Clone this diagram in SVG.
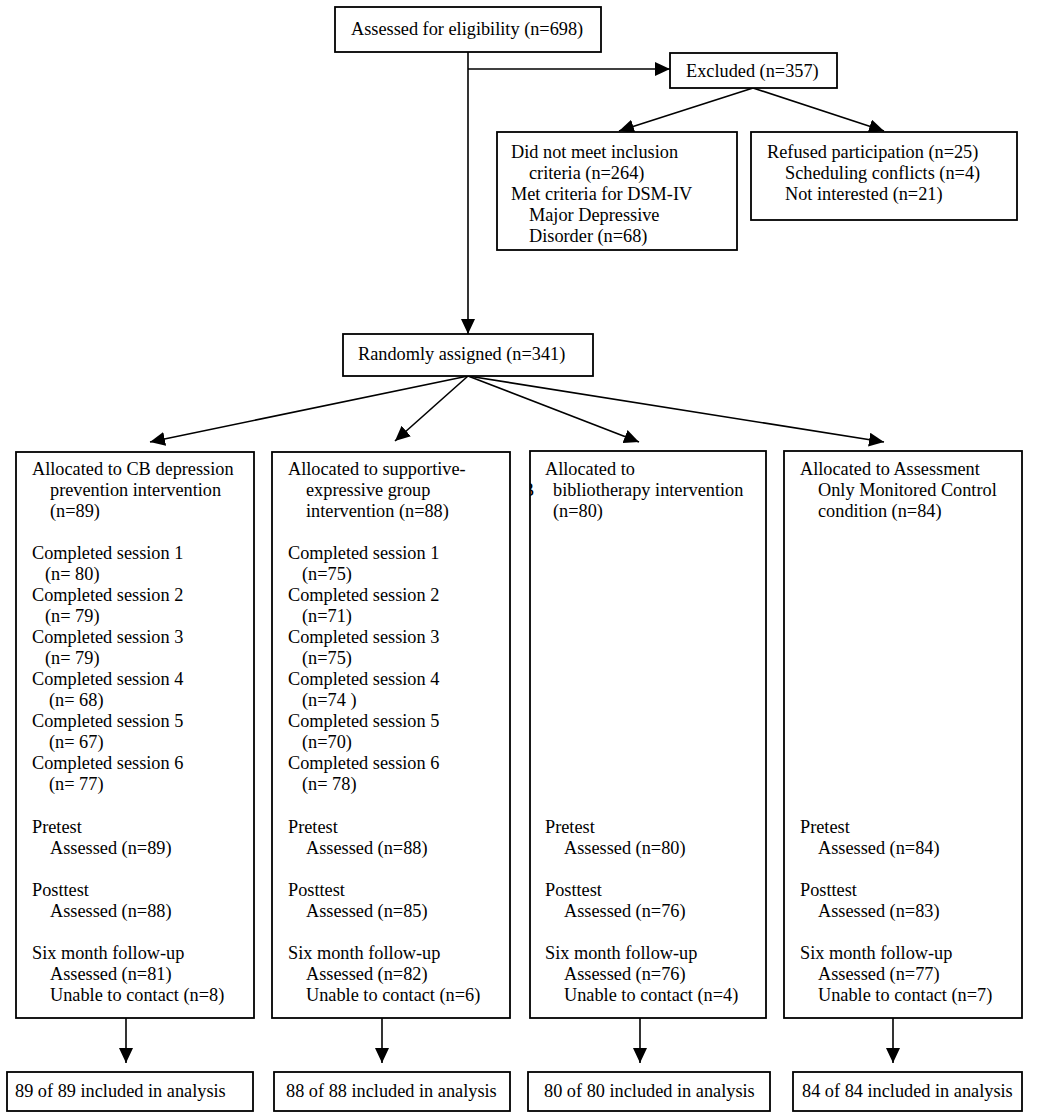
<svg xmlns="http://www.w3.org/2000/svg" width="1050" height="1118" viewBox="0 0 1050 1118">
<style>
text{font-family:"Liberation Serif","Times New Roman",serif;font-size:18.3px;fill:#000}
.box{fill:#fff;stroke:#000;stroke-width:1.8}
.con{fill:none;stroke:#000;stroke-width:1.6}
</style>
<defs>
<marker id="ah" markerUnits="userSpaceOnUse" markerWidth="16" markerHeight="14" refX="15" refY="7" orient="auto">
<path d="M0,0 L15,7 L0,14 z" fill="#000"/>
</marker>
<clipPath id="clipB"><rect x="530" y="470" width="20" height="40"/></clipPath>
</defs>
<rect width="1050" height="1118" fill="#fff"/>
<g id="connectors">
<line class="con" x1="468" y1="52" x2="468" y2="334" marker-end="url(#ah)"/>
<line class="con" x1="468" y1="69" x2="670" y2="69" marker-end="url(#ah)"/>
<line class="con" x1="753" y1="88" x2="619" y2="131" marker-end="url(#ah)"/>
<line class="con" x1="753" y1="88" x2="884" y2="131" marker-end="url(#ah)"/>
<line class="con" x1="468" y1="376" x2="150" y2="442" marker-end="url(#ah)"/>
<line class="con" x1="468" y1="376" x2="395" y2="441" marker-end="url(#ah)"/>
<line class="con" x1="468" y1="376" x2="639" y2="442" marker-end="url(#ah)"/>
<line class="con" x1="468" y1="376" x2="884" y2="442" marker-end="url(#ah)"/>
<line class="con" x1="126" y1="1018" x2="126" y2="1063" marker-end="url(#ah)"/>
<line class="con" x1="382" y1="1018" x2="382" y2="1063" marker-end="url(#ah)"/>
<line class="con" x1="640" y1="1018" x2="640" y2="1063" marker-end="url(#ah)"/>
<line class="con" x1="893" y1="1018" x2="893" y2="1063" marker-end="url(#ah)"/>
</g>
<g id="eligibility">
<rect class="box" x="335" y="7" width="266" height="45"/>
<text x="351" y="35">Assessed for eligibility (n=698)</text>
</g>
<g id="excluded">
<rect class="box" x="670" y="53" width="167" height="35"/>
<text x="686" y="77">Excluded (n=357)</text>
</g>
<g id="not-met">
<rect class="box" x="497" y="132" width="240" height="118"/>
<text x="511" y="158">Did not meet inclusion</text>
<text x="529" y="179">criteria (n=264)</text>
<text x="511" y="200">Met criteria for DSM-IV</text>
<text x="529" y="221">Major Depressive</text>
<text x="529" y="242">Disorder (n=68)</text>
</g>
<g id="refused">
<rect class="box" x="751" y="132" width="266" height="88"/>
<text x="767" y="158">Refused participation (n=25)</text>
<text x="785" y="179">Scheduling conflicts (n=4)</text>
<text x="785" y="200">Not interested (n=21)</text>
</g>
<g id="randomly">
<rect class="box" x="343" y="334" width="250" height="42"/>
<text x="358" y="360">Randomly assigned (n=341)</text>
</g>
<g id="cb">
<rect class="box" x="16" y="452" width="238" height="566"/>
<text x="32" y="475">Allocated to CB depression</text>
<text x="50" y="496">prevention intervention</text>
<text x="50" y="517">(n=89)</text>
<text x="32" y="559">Completed session 1</text>
<text x="45" y="580">(n= 80)</text>
<text x="32" y="601">Completed session 2</text>
<text x="45" y="622">(n= 79)</text>
<text x="32" y="643">Completed session 3</text>
<text x="45" y="664">(n= 79)</text>
<text x="32" y="685">Completed session 4</text>
<text x="49" y="706">(n= 68)</text>
<text x="32" y="727">Completed session 5</text>
<text x="49" y="748">(n= 67)</text>
<text x="32" y="769">Completed session 6</text>
<text x="49" y="790">(n= 77)</text>
<text x="32" y="833">Pretest</text>
<text x="50" y="854">Assessed (n=89)</text>
<text x="32" y="896">Posttest</text>
<text x="50" y="917">Assessed (n=88)</text>
<text x="32" y="959">Six month follow-up</text>
<text x="50" y="980">Assessed (n=81)</text>
<text x="50" y="1001">Unable to contact (n=8)</text>
</g>
<g id="supportive">
<rect class="box" x="272" y="452" width="238" height="566"/>
<text x="288" y="475">Allocated to supportive-</text>
<text x="306" y="496">expressive group</text>
<text x="306" y="517">intervention (n=88)</text>
<text x="288" y="559">Completed session 1</text>
<text x="302" y="580">(n=75)</text>
<text x="288" y="601">Completed session 2</text>
<text x="302" y="622">(n=71)</text>
<text x="288" y="643">Completed session 3</text>
<text x="302" y="664">(n=75)</text>
<text x="288" y="685">Completed session 4</text>
<text x="302" y="706">(n=74 )</text>
<text x="288" y="727">Completed session 5</text>
<text x="302" y="748">(n=70)</text>
<text x="288" y="769">Completed session 6</text>
<text x="302" y="790">(n= 78)</text>
<text x="288" y="833">Pretest</text>
<text x="306" y="854">Assessed (n=88)</text>
<text x="288" y="896">Posttest</text>
<text x="306" y="917">Assessed (n=85)</text>
<text x="288" y="959">Six month follow-up</text>
<text x="306" y="980">Assessed (n=82)</text>
<text x="306" y="1001">Unable to contact (n=6)</text>
</g>
<g id="bibliotherapy">
<rect class="box" x="530" y="451" width="236" height="567"/>
<text x="545" y="475">Allocated to</text>
<text x="522" y="496" clip-path="url(#clipB)">B</text>
<text x="553" y="496">bibliotherapy intervention</text>
<text x="553" y="517">(n=80)</text>
<text x="545" y="833">Pretest</text>
<text x="564" y="854">Assessed (n=80)</text>
<text x="545" y="896">Posttest</text>
<text x="564" y="917">Assessed (n=76)</text>
<text x="545" y="959">Six month follow-up</text>
<text x="564" y="980">Assessed (n=76)</text>
<text x="564" y="1001">Unable to contact (n=4)</text>
</g>
<g id="control">
<rect class="box" x="784" y="451" width="238" height="567"/>
<text x="800" y="475">Allocated to Assessment</text>
<text x="818" y="496">Only Monitored Control</text>
<text x="818" y="517">condition (n=84)</text>
<text x="800" y="833">Pretest</text>
<text x="818" y="854">Assessed (n=84)</text>
<text x="800" y="896">Posttest</text>
<text x="818" y="917">Assessed (n=83)</text>
<text x="800" y="959">Six month follow-up</text>
<text x="818" y="980">Assessed (n=77)</text>
<text x="818" y="1001">Unable to contact (n=7)</text>
</g>
<g id="analysis-cb">
<rect class="box" x="7" y="1072" width="246" height="39"/>
<text x="15" y="1097">89 of 89 included in analysis</text>
</g>
<g id="analysis-supportive">
<rect class="box" x="274" y="1072" width="236" height="39"/>
<text x="286" y="1097">88 of 88 included in analysis</text>
</g>
<g id="analysis-bibliotherapy">
<rect class="box" x="528" y="1072" width="242" height="39"/>
<text x="544" y="1097">80 of 80 included in analysis</text>
</g>
<g id="analysis-control">
<rect class="box" x="793" y="1072" width="229" height="39"/>
<text x="802" y="1097">84 of 84 included in analysis</text>
</g>
</svg>
